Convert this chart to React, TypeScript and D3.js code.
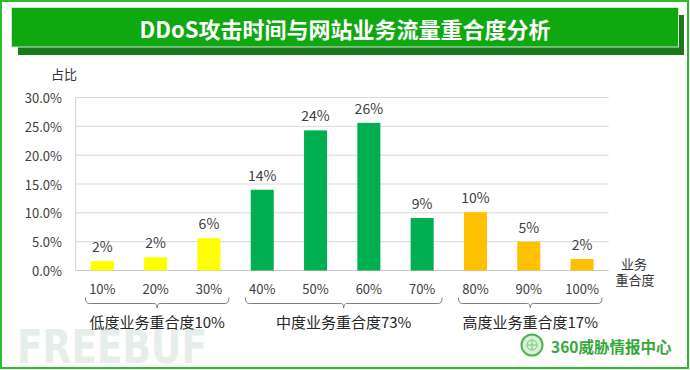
import React from "react";
import * as d3 from "d3";

const categories = ["10%", "20%", "30%", "40%", "50%", "60%", "70%", "80%", "90%", "100%"];
const shares = [1.65, 2.3, 5.6, 14.0, 24.3, 25.6, 9.1, 10.1, 5.0, 2.0];
const groupOf = [0, 0, 0, 1, 1, 1, 1, 2, 2, 2];
const groupLabels = ["低度业务重合度10%", "中度业务重合度73%", "高度业务重合度17%"];
const groupColors = ["#FFFF00", "#00B050", "#FFC000"];
const yTicks = [0, 5, 10, 15, 20, 25, 30];
const title = "DDoS攻击时间与网站业务流量重合度分析";

const FONT = "'Microsoft YaHei', 'Noto Sans CJK SC', sans-serif";

export default function App() {
  const W = 690, H = 370;
  const x = d3.scaleBand<string>().domain(categories).range([75.7, 608.7]).paddingInner(0.568).paddingOuter(0.284);
  const y = d3.scaleLinear().domain([0, 30]).range([270.5, 97.5]);
  const cx = (c: string) => (x(c) as number) + x.bandwidth() / 2;

  const groups = groupLabels.map((label, g) => {
    const idx = categories.filter((_, i) => groupOf[i] === g);
    const x1 = cx(idx[0]) - 17;
    const x2 = cx(idx[idx.length - 1]) + 20;
    return { label, x1, x2, mid: (x1 + x2) / 2 };
  });

  const bracket = (x1: number, x2: number, mid: number) => {
    const yt = 297.5, yh = 303.5, yb = 308;
    return `M${x1},${yt} Q${x1},${yh} ${x1 + 4},${yh} H${mid - 3} Q${mid},${yh} ${mid},${yb} Q${mid},${yh} ${mid + 3},${yh} H${x2 - 4} Q${x2},${yh} ${x2},${yt}`;
  };

  return (
    <svg width={W} height={H} style={{ position: "absolute", left: 0, top: 0 }} fontFamily={FONT}>
      <rect x={0} y={0} width={W} height={H} fill="#ffffff" />
      <rect x={1} y={1} width={687} height={367} fill="none" stroke="#2cbc2c" strokeWidth={2} />
      {/* title banner */}
      <rect x={18} y={15} width={666} height={40} fill="#1c781c" />
      <rect x={11.5} y={7.5} width={667} height={39.5} fill="#10a810" stroke="#c8e8c8" strokeWidth={1} />
      <text x={345} y={27.5} textAnchor="middle" dominantBaseline="central" fill="#ffffff" fontSize={22} fontWeight="bold">{title}</text>

      {/* watermark */}
      <text x={17} y={362.5} fontSize={47} fontWeight="bold" fill="#e6eee9" textLength={190} lengthAdjust="spacingAndGlyphs" fontFamily="'DejaVu Sans', sans-serif">FREEBUF</text>

      {/* grid */}
      {yTicks.map((t) => (
        <line key={t} x1={75.7} x2={608.7} y1={y(t)} y2={y(t)} stroke={t === 0 ? "#c8c8c8" : "#d9d9d9"} strokeWidth={1} />
      ))}
      <line x1={75.7} x2={75.7} y1={y(30)} y2={y(0)} stroke="#d0d0d0" strokeWidth={1} />
      {yTicks.map((t) => (
        <text key={"l" + t} x={62} y={y(t)} textAnchor="end" dominantBaseline="central" fontSize={13} fill="#404040">{t.toFixed(1)}%</text>
      ))}
      <text x={64} y={73.5} textAnchor="middle" dominantBaseline="central" fontSize={13} fill="#333">占比</text>

      {/* bars */}
      {categories.map((c, i) => (
        <g key={c}>
          <rect x={x(c)} y={y(shares[i])} width={x.bandwidth()} height={y(0) - y(shares[i])} fill={groupColors[groupOf[i]]} />
          <text x={cx(c)} y={y(shares[i]) - 9} textAnchor="middle" fontSize={14} fill="#404040">{Math.round(shares[i])}%</text>
          <text x={cx(c)} y={288.5} textAnchor="middle" dominantBaseline="central" fontSize={13} fill="#404040">{c}</text>
        </g>
      ))}

      {/* axis title */}
      <text x={634} y={263} textAnchor="middle" dominantBaseline="central" fontSize={13} fill="#333">业务</text>
      <text x={635} y={279} textAnchor="middle" dominantBaseline="central" fontSize={13} fill="#333">重合度</text>

      {/* brackets */}
      {groups.map((g) => (
        <g key={g.label}>
          <path d={bracket(g.x1, g.x2, g.mid)} fill="none" stroke="#7f7f7f" strokeWidth={1} />
          <text x={g.mid} y={321.5} textAnchor="middle" dominantBaseline="central" fontSize={15} fill="#262626">{g.label}</text>
        </g>
      ))}

      {/* logo */}
      <g>
        <circle cx={532} cy={345} r={10.5} fill="#d8efd8" stroke="#4cb34c" strokeWidth={2} />
        <circle cx={532} cy={345} r={5} fill="none" stroke="#7cc77c" strokeWidth={1} />
        <line x1={527} x2={537} y1={345} y2={345} stroke="#7cc77c" strokeWidth={1} />
        <line x1={532} x2={532} y1={340} y2={350} stroke="#7cc77c" strokeWidth={1} />
        <text x={551} y={346} dominantBaseline="central" fontSize={15.5} fontWeight="bold" fill="#35a83a">360威胁情报中心</text>
      </g>
    </svg>
  );
}
